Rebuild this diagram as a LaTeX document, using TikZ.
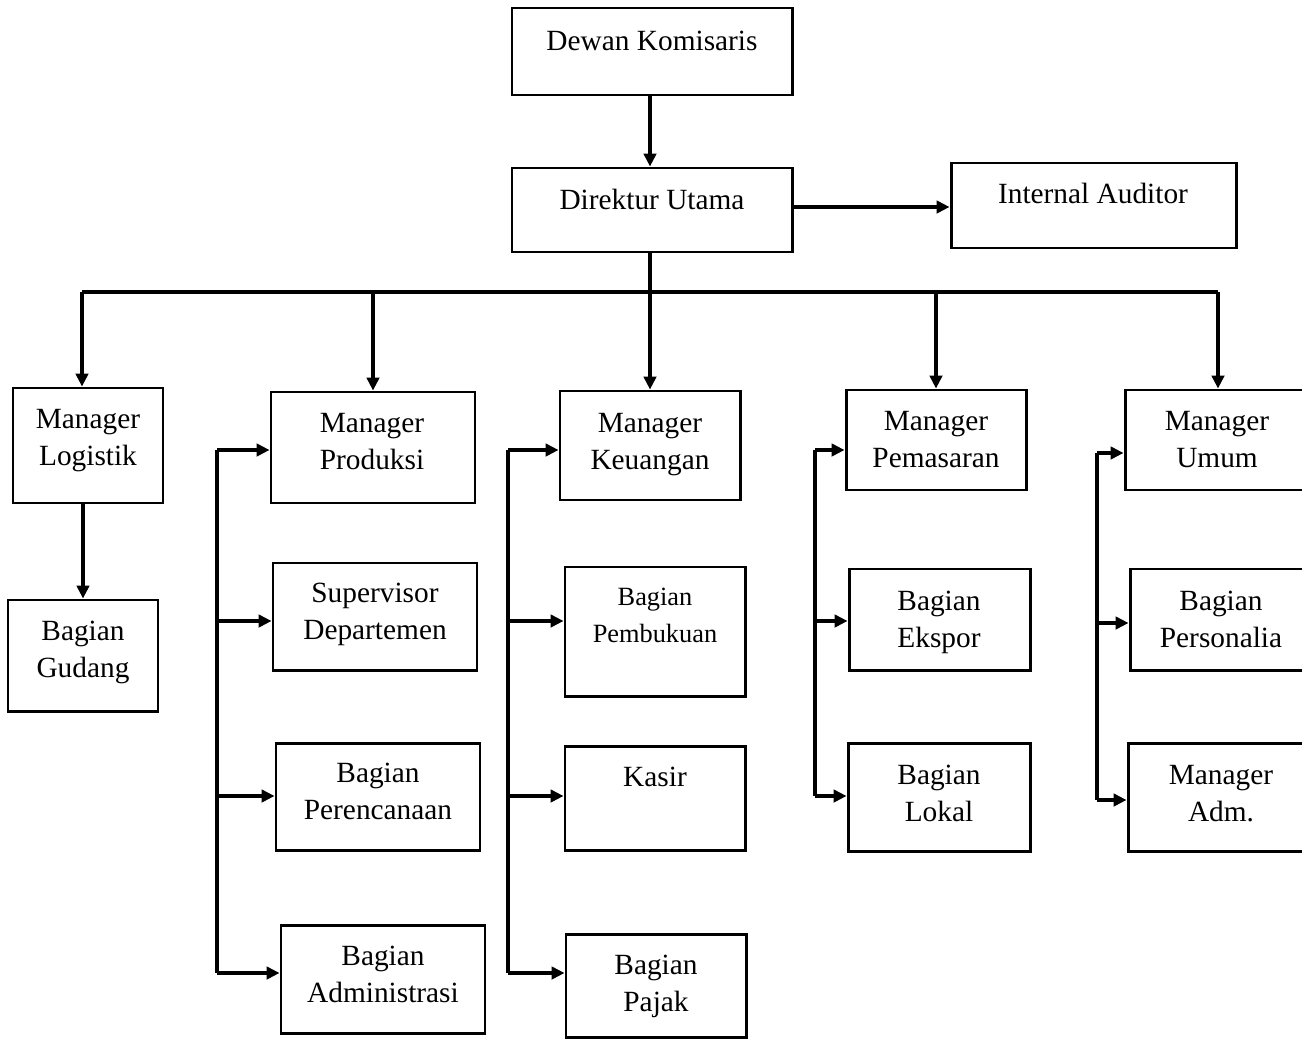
\documentclass[tikz,border=0pt]{standalone}
\usepackage{fontspec}
\setmainfont{Liberation Serif}
\usetikzlibrary{arrows.meta}
\newcommand\mybox[5]{\node[box, minimum width={(#4-#2)*0.02cm}, minimum height={(#5-#3)*0.02cm}] (#1) at ({(#2+#4)/2},{(#3+#5)/2}) {};}
\begin{document}
\begin{tikzpicture}[x=0.02cm,y=-0.02cm,
 box/.style={draw, line width=1.7pt, inner sep=0pt, fill=white},
 txt/.style={font=\fontsize{16.7}{21.5}\selectfont, align=center, inner sep=0pt, yshift=-0.05cm},
 stxt/.style={font=\fontsize{15}{21}\selectfont, align=center, inner sep=0pt, yshift=-0.05cm},
 link/.style={line width=1.8pt},
 arr/.style={link, -{Triangle[length=0.26cm,width=0.25cm]}}]
\useasboundingbox (0,0) rectangle (1302,1041);
\clip (0,0) rectangle (1302,1041);
\fill[white] (0,0) rectangle (1302,1041);

% boxes
\mybox{dk}{512}{8}{792}{95}
\mybox{du}{512}{168}{792}{252}
\mybox{ia}{951}{163}{1236}{248}
\mybox{ml}{13}{388}{163}{503}
\mybox{bg}{8}{600}{158}{711}
\mybox{mp}{271}{392}{475}{503}
\mybox{sd}{273}{563}{477}{670}
\mybox{bpr}{276}{743}{480}{850}
\mybox{ba}{281}{925}{485}{1033}
\mybox{mk}{560}{391}{740}{500}
\mybox{bpb}{565}{567}{745}{696}
\mybox{ks}{565}{746}{745}{850}
\mybox{bpj}{566}{934}{746}{1037}
\mybox{mpm}{846}{390}{1026}{490}
\mybox{be}{849}{569}{1030}{670}
\mybox{bl}{848}{743}{1030}{851}
\mybox{mu}{1125}{390}{1330}{490}
\mybox{bps}{1130}{569}{1330}{670}
\mybox{madm}{1128}{743}{1330}{851}

% texts
\node[txt] (dkT) at (652,40) {\strut Dewan Komisaris};
\node[txt] (duT) at (652,199) {\strut Direktur Utama};
\node[txt] (iaT) at (1093,193) {\strut Internal Auditor};
\node[txt] (mlT) at (88,437) {\strut Manager\\\strut Logistik};
\node[txt] (bgT) at (83,649) {\strut Bagian\\\strut Gudang};
\node[txt] (mpT) at (372,441) {\strut Manager\\\strut Produksi};
\node[txt] (sdT) at (375,611) {\strut Supervisor\\\strut Departemen};
\node[txt] (bprT) at (378,791) {\strut Bagian\\\strut Perencanaan};
\node[txt] (baT) at (383,974) {\strut Bagian\\\strut Administrasi};
\node[txt] (mkT) at (650,441) {\strut Manager\\\strut Keuangan};
\node[stxt] (bpbT) at (655,614) {\strut Bagian\\\strut Pembukuan};
\node[txt] (ksT) at (655,776) {\strut Kasir};
\node[txt] (bpjT) at (656,983) {\strut Bagian\\\strut Pajak};
\node[txt] (mpmT) at (936,439) {\strut Manager\\\strut Pemasaran};
\node[txt] (beT) at (939,619) {\strut Bagian\\\strut Ekspor};
\node[txt] (blT) at (939,793) {\strut Bagian\\\strut Lokal};
\node[txt] (muT) at (1217,439) {\strut Manager\\\strut Umum};
\node[txt] (bpsT) at (1221,619) {\strut Bagian\\\strut Personalia};
\node[txt] (madmT) at (1221,793) {\strut Manager\\\strut Adm.};

% top connectors
\coordinate (dk0) at (650,95);
\draw[arr] (dk0) -- (dk0 |- du.north);
\coordinate (ia0) at (792,207);
\draw[arr] (ia0) -- (ia0 -| ia.west);
\coordinate (bus) at (650,292);
\coordinate (busL) at (82,292);
\coordinate (busR) at (1218,292);
\draw[link] (bus |- du.south) -- (bus);
\draw[link] (busL) -- (busR);
\draw[arr] (busL) -- (busL |- ml.north);
\draw[arr] (bus -| mp.north) -- (mp.north);
\draw[arr] (bus) -- (bus |- mk.north);
\draw[arr] (bus -| mpm.north) -- (mpm.north);
\draw[arr] (busR) -- (busR |- mu.north);
\draw[arr] (bg.north |- ml.south) -- (bg.north);

% produksi spine
\coordinate (p1) at (217,450);
\coordinate (p2) at (217,621);
\coordinate (p3) at (217,796);
\coordinate (p4) at (217,973);
\draw[link] (p1) -- (p4);
\draw[arr] (p1) -- (p1 -| mp.west);
\draw[arr] (p2) -- (p2 -| sd.west);
\draw[arr] (p3) -- (p3 -| bpr.west);
\draw[arr] (p4) -- (p4 -| ba.west);

% keuangan spine
\coordinate (k1) at (508,450);
\coordinate (k2) at (508,621);
\coordinate (k3) at (508,796);
\coordinate (k4) at (508,973);
\draw[link] (k1) -- (k4);
\draw[arr] (k1) -- (k1 -| mk.west);
\draw[arr] (k2) -- (k2 -| bpb.west);
\draw[arr] (k3) -- (k3 -| ks.west);
\draw[arr] (k4) -- (k4 -| bpj.west);

% pemasaran spine
\coordinate (s1) at (815,450);
\coordinate (s2) at (815,621);
\coordinate (s3) at (815,796);
\draw[link] (s1) -- (s3);
\draw[arr] (s1) -- (s1 -| mpm.west);
\draw[arr] (s2) -- (s2 -| be.west);
\draw[arr] (s3) -- (s3 -| bl.west);

% umum spine
\coordinate (u1) at (1097,453);
\coordinate (u2) at (1097,623);
\coordinate (u3) at (1097,800);
\draw[link] (u1) -- (u3);
\draw[arr] (u1) -- (u1 -| mu.west);
\draw[arr] (u2) -- (u2 -| bps.west);
\draw[arr] (u3) -- (u3 -| madm.west);
\end{tikzpicture}
\end{document}
